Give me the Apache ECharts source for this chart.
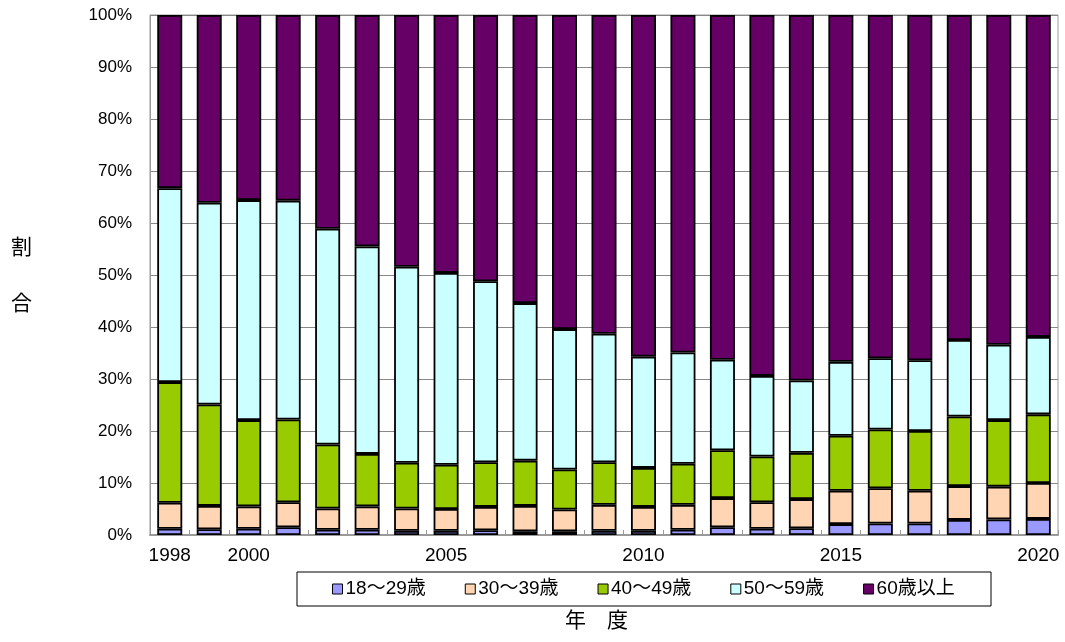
<!DOCTYPE html>
<html><head><meta charset="utf-8">
<script src="https://cdn.jsdelivr.net/npm/echarts@6/dist/echarts.min.js"></script>
<style>html,body{margin:0;padding:0;background:#fff}#c{width:1065px;height:642px}</style>
</head><body><div id="c"></div>
<script>
const years = ['1998','1999','2000','2001','2002','2003','2004','2005','2006','2007','2008','2009','2010','2011','2012','2013','2014','2015','2016','2017','2018','2019','2020'];
const xTickLabels = ['1998','2000','2005','2010','2015','2020'];
const seriesNames = ['18～29歳','30～39歳','40～49歳','50～59歳','60歳以上'];
const age18_29 = [1.2,1.1,1.2,1.5,1.0,1.0,0.8,0.8,0.9,0.7,0.7,0.8,0.8,1.0,1.5,1.2,1.3,2.1,2.2,2.2,2.9,3.0,3.1];
const age30_39 = [5.0,4.5,4.3,4.8,4.1,4.5,4.3,4.2,4.5,4.9,4.2,5.0,4.6,4.8,5.6,5.1,5.6,6.4,6.8,6.3,6.5,6.3,6.9];
const age40_49 = [23.2,19.5,16.6,15.9,12.3,10.1,8.8,8.5,8.6,8.7,7.7,8.2,7.5,7.9,9.2,8.8,8.9,10.6,11.3,11.5,13.4,12.8,13.2];
const age50_59 = [37.3,38.8,42.3,42.1,41.5,39.9,37.7,36.9,34.8,30.3,27.0,24.7,21.4,21.4,17.4,15.5,13.9,14.2,13.7,13.6,14.7,14.5,14.9];
const age60up  = [33.3,36.1,35.6,35.7,41.1,44.5,48.4,49.6,51.2,55.4,60.4,61.3,65.7,64.9,66.3,69.4,70.3,66.7,66.0,66.4,62.5,63.4,61.9];
const colors = ['#9999FF','#FFD5B4','#99CC00','#CCFFFF','#660066'];
const dataSets = [age18_29, age30_39, age40_49, age50_59, age60up];
const FONT = '"Liberation Sans", "Noto Sans CJK JP", sans-serif';

const chart = echarts.init(document.getElementById('c'), null, {renderer:'canvas'});
chart.setOption({
  animation:false,
  textStyle:{fontFamily:FONT},
  grid:{left:150, right:7, top:15, bottom:107, show:true, borderColor:'#999', borderWidth:1},
  legend:{
    left:332, top:579, orient:'horizontal',
    padding:0, itemGap:39,
    borderWidth:0,
    itemWidth:10, itemHeight:10,
    textStyle:{fontSize:19, lineHeight:20, color:'#000', fontFamily:FONT, padding:[0,0,0,-2]},
    data: seriesNames.map((n,i)=>({name:n, icon:'rect', itemStyle:{color:colors[i], borderColor:'#000', borderWidth:1}}))
  },
  xAxis:{
    type:'category', data:years,
    axisLine:{lineStyle:{color:'#999', width:2}},
    axisTick:{show:true, inside:true, length:5, interval:0, lineStyle:{color:'#999'}},
    axisLabel:{interval:0, color:'#000', fontSize:19, margin:11, fontFamily:FONT,
      formatter:(v)=> xTickLabels.includes(v) ? v : ''},
    splitLine:{show:false}
  },
  yAxis:{
    type:'value', min:0, max:100, interval:10,
    axisLine:{show:true, lineStyle:{color:'#999'}},
    axisTick:{show:false},
    axisLabel:{formatter:'{value}%', color:'#000', fontSize:17, margin:18, fontFamily:FONT},
    splitLine:{lineStyle:{color:'#888', width:1}}
  },
  series: dataSets.map((d,i)=>({
    name:seriesNames[i], type:'bar', stack:'total', data:d, barWidth:25,
    itemStyle:{color:colors[i], borderColor:'#000', borderWidth:1.8}
  })),
  graphic:[
    {type:'rect', shape:{x:297, y:572, width:694, height:34}, style:{fill:'none', stroke:'#000', lineWidth:1}},
    {type:'text', left:11, top:236, style:{text:'割', fill:'#000', font:'21px "Noto Sans CJK JP"'}},
    {type:'text', left:11, top:292, style:{text:'合', fill:'#000', font:'21px "Noto Sans CJK JP"'}},
    {type:'text', left:565, top:609, style:{text:'年　度', fill:'#000', font:'21px "Noto Sans CJK JP"'}}
  ]
});
</script></body></html>
